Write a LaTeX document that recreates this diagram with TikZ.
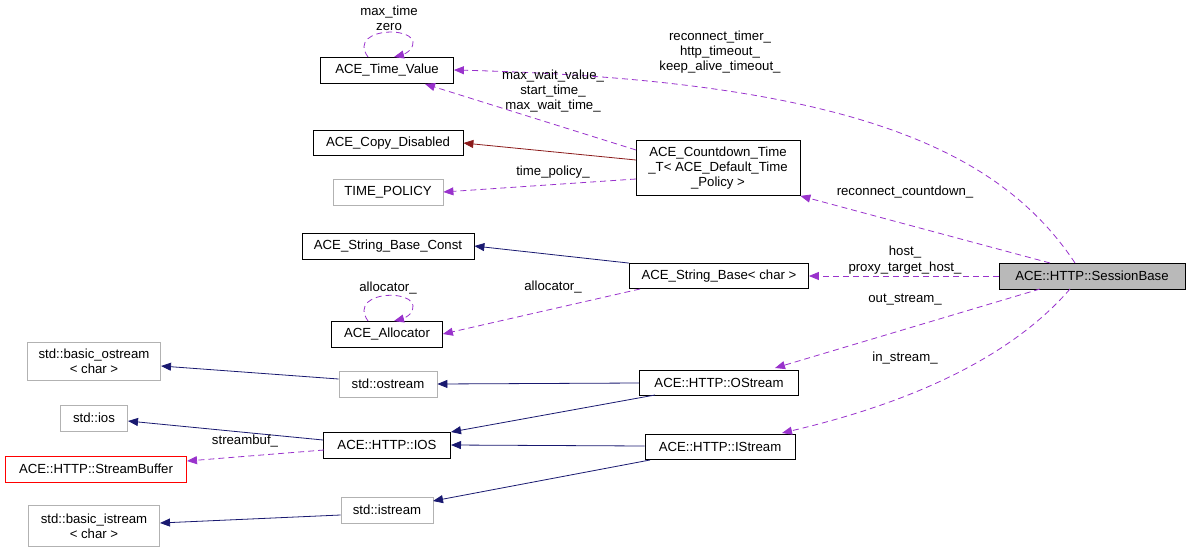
\documentclass[tikz,border=0pt]{standalone}
\usepackage{fontspec}
\setmainfont{Liberation Sans}
\usetikzlibrary{arrows.meta}
\definecolor{dorch}{RGB}{153,50,204}
\definecolor{mnavy}{RGB}{25,25,112}
\definecolor{dred}{RGB}{139,26,26}
\begin{document}
\begin{tikzpicture}[x=1pt,y=-1pt,font=\fontsize{13.2}{15.2}\selectfont,
 box/.style={draw=black,fill=white,inner sep=2pt,align=center,line width=0.8pt},
 gbox/.style={box,draw=gray!60},
 rbox/.style={box,draw=red},
 mem/.style={draw=dorch,dash pattern=on 6pt off 4pt,line width=0.8pt,-{Triangle[width=8pt,length=10pt,fill=dorch]}},
 inh/.style={draw=mnavy,line width=0.8pt,-{Triangle[width=8pt,length=10pt]}},
 inr/.style={draw=dred,line width=0.8pt,-{Triangle[width=8pt,length=10pt]}},
 lbl/.style={inner sep=1pt,align=center}]
\useasboundingbox (0,0) rectangle (1189,554);
\node[box,minimum width=133,minimum height=26] (tv) at (387,70) {ACE\_Time\_Value};
\node[box,minimum width=150,minimum height=25] (cd) at (388,143) {ACE\_Copy\_Disabled};
\node[gbox,minimum width=110,minimum height=26] (tp) at (388,192) {TIME\_POLICY};
\node[box,minimum width=164,minimum height=55] (ct) at (718,168) {ACE\_Countdown\_Time\\\_T< ACE\_Default\_Time\\\_Policy >};
\node[box,minimum width=172,minimum height=26] (sbc) at (388,246) {ACE\_String\_Base\_Const};
\node[box,minimum width=179,minimum height=25] (sb) at (719,276) {ACE\_String\_Base< char >};
\node[box,minimum width=111,minimum height=26] (al) at (387,334) {ACE\_Allocator};
\node[box,fill=gray!55,minimum width=186,minimum height=26] (ss) at (1092,276) {ACE::HTTP::SessionBase};
\node[gbox,minimum width=133,minimum height=38] (bo) at (94,361) {std::basic\_ostream\\< char >};
\node[gbox,minimum width=98,minimum height=26] (os) at (388,384) {std::ostream};
\node[box,minimum width=159,minimum height=25] (hos) at (719,383) {ACE::HTTP::OStream};
\node[gbox,minimum width=67,minimum height=26] (ios) at (94,418) {std::ios};
\node[box,minimum width=127,minimum height=26] (hio) at (387,445) {ACE::HTTP::IOS};
\node[rbox,minimum width=181,minimum height=26] (buf) at (96,469) {ACE::HTTP::StreamBuffer};
\node[box,minimum width=150,minimum height=25] (his) at (720,447) {ACE::HTTP::IStream};
\node[gbox,minimum width=92,minimum height=26] (is) at (387,510) {std::istream};
\node[gbox,minimum width=131,minimum height=41] (bi) at (94,526) {std::basic\_istream\\< char >};

% self loops
\draw[mem] (368,57) .. controls (345,25) and (430,25) .. (410,50) .. controls (405,55) and (398,56) .. (394,57);
\node[lbl] at (389,18) {max\_time\\zero};
\draw[mem] (368,321) .. controls (345,288) and (430,288) .. (410,314) .. controls (405,319) and (398,320) .. (394,321);
\node[lbl] at (388,288) {allocator\_};

\draw[mem] (1075,263) .. controls (1000,150) and (850,80) .. (tv.east);
\node[lbl] at (720,52) {reconnect\_timer\_\\http\_timeout\_\\keep\_alive\_timeout\_};
\draw[mem] (636,150) -- (425,84);
\node[lbl] at (553,91) {max\_wait\_value\_\\start\_time\_\\max\_wait\_time\_};
\draw[inr] (636,160) -- (cd.east);
\draw[mem] (636,179) -- (tp.east);
\node[lbl] at (553,172) {time\_policy\_};
\draw[mem] (1050,263) -- (ct.south east);
\node[lbl] at (905,192) {reconnect\_countdown\_};
\draw[inh] (sb.north west) -- (sbc.east);
\draw[mem] (ss.west) -- (sb.east);
\node[lbl] at (905,260) {host\_\\proxy\_target\_host\_};
\draw[mem] (640,289) -- (al.east);
\node[lbl] at (553,287) {allocator\_};
\draw[mem] (1040,289) -- (775,368);
\node[lbl] at (905,300) {out\_stream\_};
\draw[mem] (1070,289) .. controls (1000,370) and (880,410) .. (782,433);
\node[lbl] at (905,358) {in\_stream\_};
\draw[inh] (os.west) ++(0,-5) -- (161,366);
\draw[inh] (hos.west) -- (os.east);
\draw[inh] (655,395) -- (451,432);
\draw[inh] (hio.west) ++(0,-5) -- (128,421);
\draw[mem] (324,450) -- (187,461);
\node[lbl] at (245,441) {streambuf\_};
\draw[inh] (his.west) ++(0,-1) -- (451,445);
\draw[inh] (650,460) -- (433,501);
\draw[inh] (is.west) ++(0,5) -- (160,523);
\end{tikzpicture}
\end{document}
